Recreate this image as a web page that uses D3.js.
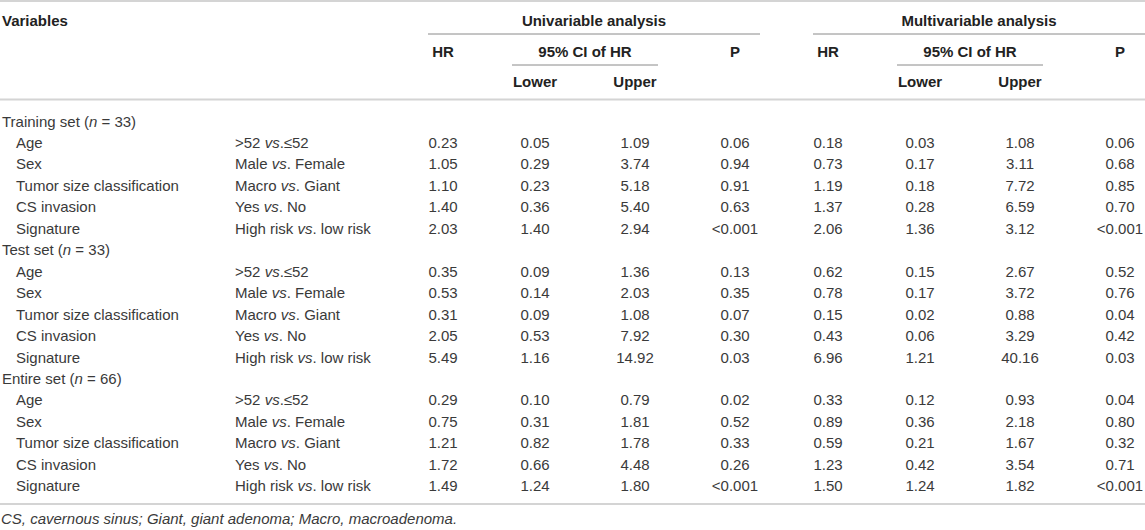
<!DOCTYPE html>
<html>
<head>
<meta charset="utf-8">
<script src="https://cdn.jsdelivr.net/npm/d3@7"></script>
<style>
  body { margin: 0; background: #fff; }
  svg text { font-family: "Liberation Sans", Arial, Helvetica, sans-serif; font-size: 15px; }
</style>
</head>
<body>
<div id="table"></div>
<script>
// table content
const groups = ["Training set", "Test set", "Entire set"];
const groupN = [33, 33, 66];
const variables = ["Age", "Sex", "Tumor size classification", "CS invasion", "Signature"];
const comparisons = [">52 vs.≤52", "Male vs. Female", "Macro vs. Giant", "Yes vs. No", "High risk vs. low risk"];

const columns = ["uniHR", "uniLower", "uniUpper", "uniP", "multiHR", "multiLower", "multiUpper", "multiP"];
const columnLabels = ["HR", "Lower", "Upper", "P", "HR", "Lower", "Upper", "P"];

// one entry per variable row, training / test / entire
const uniHR    = ["0.23", "1.05", "1.10", "1.40", "2.03", "0.35", "0.53", "0.31", "2.05", "5.49", "0.29", "0.75", "1.21", "1.72", "1.49"];
const uniLower = ["0.05", "0.29", "0.23", "0.36", "1.40", "0.09", "0.14", "0.09", "0.53", "1.16", "0.10", "0.31", "0.82", "0.66", "1.24"];
const uniUpper = ["1.09", "3.74", "5.18", "5.40", "2.94", "1.36", "2.03", "1.08", "7.92", "14.92", "0.79", "1.81", "1.78", "4.48", "1.80"];
const uniP     = ["0.06", "0.94", "0.91", "0.63", "<0.001", "0.13", "0.35", "0.07", "0.30", "0.03", "0.02", "0.52", "0.33", "0.26", "<0.001"];
const multiHR    = ["0.18", "0.73", "1.19", "1.37", "2.06", "0.62", "0.78", "0.15", "0.43", "6.96", "0.33", "0.89", "0.59", "1.23", "1.50"];
const multiLower = ["0.03", "0.17", "0.18", "0.28", "1.36", "0.15", "0.17", "0.02", "0.06", "1.21", "0.12", "0.36", "0.21", "0.42", "1.24"];
const multiUpper = ["1.08", "3.11", "7.72", "6.59", "3.12", "2.67", "3.72", "0.88", "3.29", "40.16", "0.93", "2.18", "1.67", "3.54", "1.82"];
const multiP     = ["0.06", "0.68", "0.85", "0.70", "<0.001", "0.52", "0.76", "0.04", "0.42", "0.03", "0.04", "0.80", "0.32", "0.71", "<0.001"];

const footnote = "CS, cavernous sinus; Giant, giant adenoma; Macro, macroadenoma.";

const values = { uniHR, uniLower, uniUpper, uniP, multiHR, multiLower, multiUpper, multiP };

const width = 1145, height = 530;
const textColor = "#3a3a3a", headColor = "#222";

// build rows: a group label row followed by its variables
const rows = [];
groups.forEach((g, gi) => {
  rows.push({ type: "group", label: g, n: groupN[gi] });
  variables.forEach((v, vi) => {
    rows.push({ type: "var", label: v, comp: comparisons[vi], k: gi * variables.length + vi });
  });
});

const y = d3.scaleLinear().domain([0, rows.length - 1]).range([121.2, 486]);
const x = d3.scaleOrdinal().domain(columns).range([443, 535, 635, 735, 828, 920, 1020, 1120]);
const base = 5.3; // text centre to baseline

const svg = d3.select("#table").append("svg")
  .attr("width", width)
  .attr("height", height)
  .attr("viewBox", [0, 0, width, height]);

// horizontal rules
svg.append("g")
  .attr("stroke", "#d4d4d4")
  .attr("stroke-width", 2)
  .selectAll("line")
  .data([1, 99.5, 504])
  .join("line")
  .attr("x1", 0).attr("x2", width)
  .attr("y1", d => d).attr("y2", d => d);

// header
const head = svg.append("g").attr("fill", headColor).attr("font-weight", "bold");
head.append("text").attr("x", 2).attr("y", 21 + base).text("Variables");

const blocks = [
  { title: "Univariable analysis", cols: columns.slice(0, 4) },
  { title: "Multivariable analysis", cols: columns.slice(4) }
];
blocks.forEach(b => {
  const x0 = x(b.cols[0]) - 15, x1 = Math.min(x(b.cols[3]) + 25, width);
  head.append("text")
    .attr("x", (x0 + x1) / 2).attr("y", 21 + base)
    .attr("text-anchor", "middle")
    .text(b.title);
  svg.append("line")
    .attr("x1", x0).attr("x2", x1)
    .attr("y1", 34).attr("y2", 34)
    .attr("stroke", "#8a8a8a");
  const c0 = x(b.cols[1]) - 23, c1 = x(b.cols[2]) + 23;
  head.append("text")
    .attr("x", (c0 + c1) / 2).attr("y", 52 + base)
    .attr("text-anchor", "middle")
    .text("95% CI of HR");
  svg.append("line")
    .attr("x1", c0).attr("x2", c1)
    .attr("y1", 65).attr("y2", 65)
    .attr("stroke", "#8a8a8a");
});

head.selectAll("text.col")
  .data(columns)
  .join("text")
  .attr("class", "col")
  .attr("text-anchor", "middle")
  .attr("x", d => x(d))
  .attr("y", (d, i) => ((i % 4 === 1 || i % 4 === 2) ? 82 : 52) + base)
  .text((d, i) => columnLabels[i]);

// body
const body = svg.append("g").attr("fill", textColor);

const rowG = body.selectAll("g.row")
  .data(rows)
  .join("g")
  .attr("class", "row")
  .attr("transform", (d, i) => `translate(0,${y(i) + base})`);

// group labels with italic n
rowG.filter(d => d.type === "group")
  .append("text")
  .attr("x", 2)
  .call(t => {
    t.append("tspan").text(d => d.label + " (");
    t.append("tspan").attr("font-style", "italic").text("n");
    t.append("tspan").text(d => " = " + d.n + ")");
  });

const varRows = rowG.filter(d => d.type === "var");

varRows.append("text")
  .attr("x", 16)
  .text(d => d.label);

varRows.append("text")
  .attr("x", 235)
  .call(t => {
    t.append("tspan").text(d => d.comp.split("vs.")[0]);
    t.append("tspan").attr("font-style", "italic").text("vs");
    t.append("tspan").text(d => "." + d.comp.split("vs.")[1]);
  });

varRows.selectAll("text.val")
  .data(d => columns.map(c => ({ c, v: values[c][d.k] })))
  .join("text")
  .attr("class", "val")
  .attr("text-anchor", "middle")
  .attr("x", d => x(d.c))
  .text(d => d.v);

// footnote
svg.append("text")
  .attr("x", 1)
  .attr("y", 519 + base)
  .attr("fill", textColor)
  .attr("font-style", "italic")
  .text(footnote);
</script>
</body>
</html>
